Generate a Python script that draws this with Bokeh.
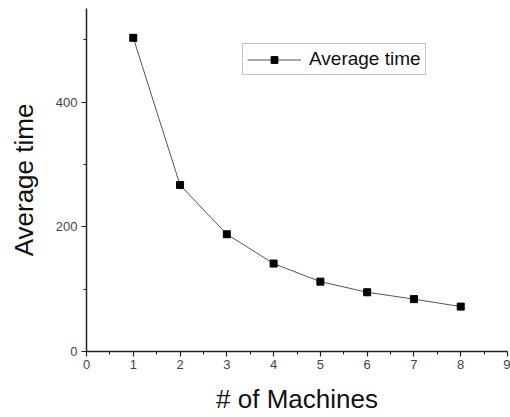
from bokeh.plotting import figure
from bokeh.models import FixedTicker, Range1d, Legend, LegendItem
from bokeh.embed import file_html
from bokeh.resources import INLINE

machines = [1, 2, 3, 4, 5, 6, 7, 8]
avg_time = [503, 267, 188, 141, 112, 95, 84, 72]
x_ticks = [0, 1, 2, 3, 4, 5, 6, 7, 8, 9]
x_minor = [0.5, 1.5, 2.5, 3.5, 4.5, 5.5, 6.5, 7.5, 8.5]
y_ticks = [0, 200, 400]
y_minor = [100, 300, 500]

FONT = "Liberation Sans"

p = figure(width=510, height=417, output_backend="svg", toolbar_location=None,
           x_range=Range1d(0, 9), y_range=Range1d(0, 550),
           min_border_left=86, min_border_right=3, min_border_top=8, min_border_bottom=66)
p.outline_line_color = None
p.xgrid.visible = False
p.ygrid.visible = False

l = p.line(machines, avg_time, line_color="#555555", line_width=1)
s = p.scatter(machines, avg_time, marker="square", size=7, fill_color="black", line_color="black")

p.xaxis.ticker = FixedTicker(ticks=x_ticks, minor_ticks=x_minor)
p.yaxis.ticker = FixedTicker(ticks=y_ticks, minor_ticks=y_minor)

for ax in (p.xaxis, p.yaxis):
    ax.axis_line_color = "#222222"
    ax.axis_line_width = 1.5
    ax.major_tick_line_color = "#222222"
    ax.minor_tick_line_color = "#222222"
    ax.major_tick_line_width = 1.2
    ax.major_tick_out = 5
    ax.major_tick_in = 0
    ax.minor_tick_out = 3
    ax.minor_tick_in = 0
    ax.major_label_text_font = FONT
    ax.major_label_text_font_size = "13px"
    ax.major_label_text_color = "#444444"
    ax.axis_label_text_font = FONT
    ax.axis_label_text_font_size = "26px"
    ax.axis_label_text_font_style = "normal"
    ax.axis_label_text_color = "#111111"

p.xaxis.axis_label = "# of Machines"
p.yaxis.axis_label = "Average time"
p.xaxis.major_label_standoff = 3
p.yaxis.major_label_standoff = 4
p.xaxis.axis_label_standoff = 12
p.yaxis.axis_label_standoff = 14

legend = Legend(items=[LegendItem(label="Average time", renderers=[l, s])],
                location=(156, 276))
legend.label_text_font = FONT
legend.label_text_font_size = "19px"
legend.label_text_color = "#111111"
legend.border_line_color = "#888888"
legend.border_line_width = 1
legend.glyph_width = 54
legend.glyph_height = 17
legend.padding = 4
legend.margin = 0
legend.label_standoff = 8
legend.label_height = 17
legend.spacing = 0
legend.background_fill_alpha = 1
p.add_layout(legend, "center")

open("out.html", "w").write(file_html(p, INLINE))
